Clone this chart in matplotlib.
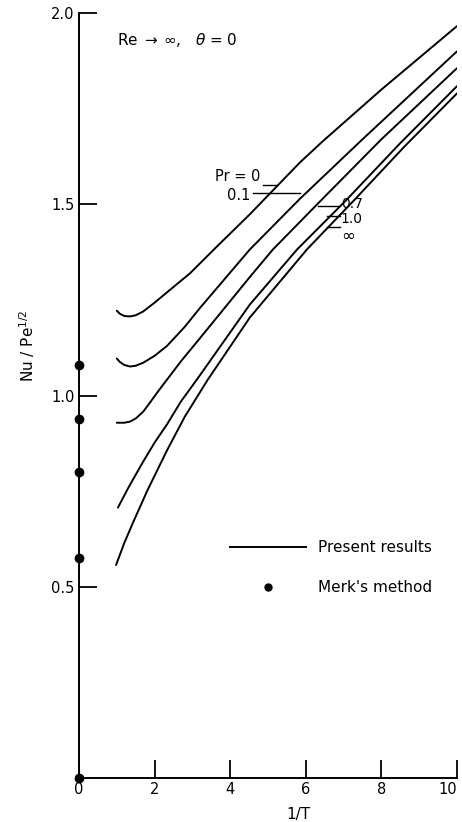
import matplotlib
matplotlib.use("Agg")
import matplotlib.pyplot as plt

plt.rcParams['font.family'] = ['DejaVu Sans']

# Present results: Nu/Pe^(1/2) against 1/T for several Prandtl numbers
x_pr0 = [1.0, 1.08, 1.2, 1.35, 1.5, 1.7, 2.0, 2.5, 2.94, 3.6, 4.52, 5.85, 6.45, 8.0, 10.0]
y_pr0 = [1.222, 1.214, 1.208, 1.207, 1.210, 1.220, 1.243, 1.284, 1.32, 1.385, 1.474, 1.61, 1.665, 1.80, 1.966]

x_pr01 = [1.0, 1.08, 1.2, 1.35, 1.5, 1.7, 2.0, 2.33, 2.8, 3.2, 4.52, 5.85, 7.5, 10.0]
y_pr01 = [1.097, 1.088, 1.080, 1.076, 1.078, 1.086, 1.104, 1.130, 1.18, 1.229, 1.382, 1.515, 1.67, 1.90]

x_pr07 = [1.0, 1.2, 1.35, 1.5, 1.7, 1.88, 2.1, 2.33, 2.7, 3.2, 4.52, 5.13, 6.43, 8.0, 10.0]
y_pr07 = [0.929, 0.929, 0.932, 0.940, 0.958, 0.982, 1.012, 1.042, 1.09, 1.15, 1.31, 1.382, 1.513, 1.67, 1.856]

x_pr1 = [1.03, 1.3, 1.69, 2.0, 2.33, 2.7, 3.12, 4.52, 5.77, 7.09, 8.5, 10.0]
y_pr1 = [0.707, 0.758, 0.826, 0.877, 0.925, 0.985, 1.042, 1.238, 1.382, 1.513, 1.66, 1.809]

x_prinf = [0.98, 1.2, 1.43, 1.8, 2.33, 2.8, 3.41, 4.52, 6.03, 7.30, 8.6, 10.0]
y_prinf = [0.557, 0.615, 0.668, 0.75, 0.857, 0.945, 1.042, 1.204, 1.382, 1.513, 1.65, 1.79]

# Merk's method values at 1/T = 0
merk_x = [0, 0, 0, 0, 0]
merk_y = [1.081, 0.940, 0.801, 0.576, 0.0]

x_ticks = [0, 2, 4, 6, 8, 10]
y_ticks = [0.5, 1.0, 1.5, 2.0]
y_tick_labels = ["0.5", "1.0", "1.5", "2.0"]

fig = plt.figure(figsize=(4.62, 8.22), dpi=100)
ax = fig.add_axes([0.171, 0.0535, 0.818, 0.9305])

for xs, ys in [(x_pr0, y_pr0), (x_pr01, y_pr01), (x_pr07, y_pr07),
               (x_pr1, y_pr1), (x_prinf, y_prinf)]:
    ax.plot(xs, ys, color='black', lw=1.4, solid_capstyle='round',
            solid_joinstyle='round')

ax.plot(merk_x, merk_y, 'o', color='black', ms=6, clip_on=False, zorder=5)

ax.set_xlim(0, 10)
ax.set_ylim(0, 2.0)
ax.spines['top'].set_visible(False)
ax.spines['right'].set_visible(False)
ax.spines['left'].set_linewidth(1.4)
ax.spines['bottom'].set_linewidth(1.4)

ax.set_xticks(x_ticks)
ax.set_xticklabels([str(t) for t in x_ticks])
ax.set_yticks(y_ticks)
ax.set_yticklabels(y_tick_labels)
ax.tick_params(axis='both', direction='in', length=13, width=1.3,
               labelsize=10.5, pad=3)
# keep the last x tick label inside the figure
ax.get_xticklabels()[-1].set_horizontalalignment('right')
ax.get_xticklabels()[-1].set_x(10.12)

ax.set_ylabel(r"Nu / Pe$^{1/2}$", fontsize=11)
ax.yaxis.set_label_coords(-0.11, 0.565)
ax.text(5.8, -0.095, "1/T", ha='center', va='center', fontsize=11)

ax.text(1.0, 1.93, r"Re $\rightarrow\,\infty$,   $\theta$ = 0", fontsize=11,
        ha='left', va='center')

# Prandtl number labels with leader lines
lab_kw = dict(fontsize=10.5, va='center')
ax.text(3.6, 1.573, "Pr = 0", ha='left', **lab_kw)
ax.plot([4.87, 5.25], [1.551, 1.551], color='black', lw=1.0)
ax.text(3.92, 1.524, "0.1", ha='left', **lab_kw)
ax.plot([4.6, 5.85], [1.53, 1.53], color='black', lw=1.0)

small_kw = dict(fontsize=10, va='center', ha='left')
ax.text(6.93, 1.501, "0.7", **small_kw)
ax.plot([6.32, 6.88], [1.497, 1.497], color='black', lw=1.0)
ax.text(6.93, 1.461, "1.0", **small_kw)
ax.plot([6.56, 6.9], [1.470, 1.470], color='black', lw=1.0)
ax.text(6.93, 1.417, "∞", fontsize=12, va='center', ha='left')
ax.plot([6.56, 6.9], [1.44, 1.44], color='black', lw=1.0)

# Key
ax.plot([4.0, 6.0], [0.604, 0.604], color='black', lw=1.4)
ax.text(6.32, 0.604, "Present results", ha='left', va='center', fontsize=11)
ax.plot([5.0], [0.499], 'o', color='black', ms=5)
ax.text(6.32, 0.499, "Merk's method", ha='left', va='center', fontsize=11)

fig.savefig("out.png", dpi=100)
